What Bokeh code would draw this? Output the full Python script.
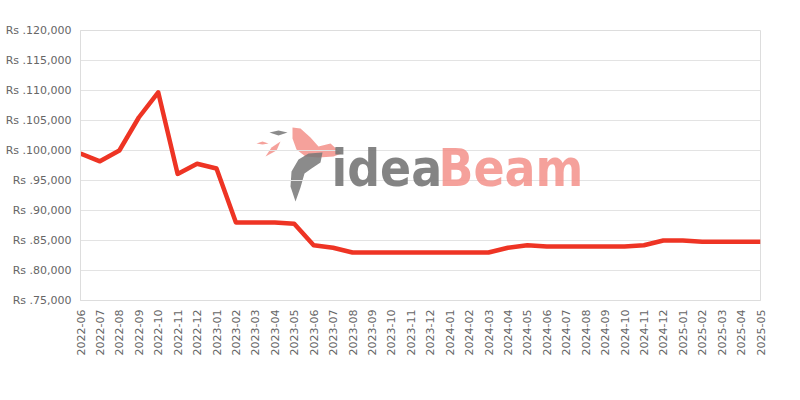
import math
from bokeh.plotting import figure
from bokeh.models import Range1d, FixedTicker, Label
from bokeh.embed import file_html
from bokeh.resources import INLINE

months = ["2022-06", "2022-07", "2022-08", "2022-09", "2022-10", "2022-11", "2022-12",
          "2023-01", "2023-02", "2023-03", "2023-04", "2023-05", "2023-06", "2023-07",
          "2023-08", "2023-09", "2023-10", "2023-11", "2023-12",
          "2024-01", "2024-02", "2024-03", "2024-04", "2024-05", "2024-06", "2024-07",
          "2024-08", "2024-09", "2024-10", "2024-11", "2024-12",
          "2025-01", "2025-02", "2025-03", "2025-04", "2025-05"]
prices = [99500, 98200, 100000, 105500, 109700, 96100, 97800,
          97000, 88000, 88000, 88000, 87800, 84200, 83800,
          83000, 83000, 83000, 83000, 83000,
          83000, 83000, 83000, 83800, 84200, 84000, 84000,
          84000, 84000, 84000, 84200, 85000,
          85000, 84800, 84800, 84800, 84800]
y_ticks = [75000, 80000, 85000, 90000, 95000, 100000, 105000, 110000, 115000, 120000]
y_min, y_max = 75000, 120000

FONT = "DejaVu Sans"
LABEL_COLOR = "#666666"

p = figure(width=784, height=384, output_backend="svg", toolbar_location=None,
           x_range=Range1d(0, len(months) - 1), y_range=Range1d(y_min, y_max),
           min_border_left=80, min_border_right=24, min_border_top=30, min_border_bottom=84)
p.background_fill_color = "white"
p.border_fill_color = "white"
p.outline_line_color = "#dddddd"

# watermark (page pixel -> data coords)
FL, FR, FT, FB = 80, 760, 30, 300
def px(x):
    return (x - FL) / (FR - FL) * (len(months) - 1)
def py(y):
    return y_max - (y - FT) / (FB - FT) * (y_max - y_min)

salmon = "#f39189"
grey = "#777777"
shapes = [
    ([(292,127),(300,128),(310,137),(318,146),(330,143),(341,153),(333,156),(318,157),(305,156),(296,149),(292,138)], salmon),
    ([(295,201),(290,186),(291,171),(298,159),(308,153),(322,152),(320,162),(311,168),(304,173),(300,187)], grey),
    ([(269,132),(278,130),(287,132),(278,135)], grey),
    ([(256,143),(262,141),(268,143),(262,144)], salmon),
    ([(265,156),(271,147),(280,141),(276,150)], salmon),
]
p.patches(xs=[[px(a) for a, b in s] for s, c in shapes],
          ys=[[py(b) for a, b in s] for s, c in shapes],
          fill_color=[c for s, c in shapes], line_color=None, fill_alpha=0.85, level="underlay")
WM_FONT = "DejaVu Sans Condensed"
p.add_layout(Label(x=px(331), y=py(168), text="idea", text_font=WM_FONT, text_font_size="51px",
                   text_font_style="bold", text_color=grey, text_alpha=0.9,
                   text_baseline="alphabetic", level="underlay"))
p.add_layout(Label(x=px(438), y=py(168), text="Beam", text_font=WM_FONT, text_font_size="51px",
                   text_font_style="bold", text_color=salmon, text_alpha=0.85,
                   text_baseline="alphabetic", level="underlay"))

xs = list(range(len(months)))
p.line(xs, prices, line_color="#ee3424", line_width=4.5, line_join="round")

# axes
p.xaxis.ticker = FixedTicker(ticks=xs)
p.xaxis.major_label_overrides = {i: m for i, m in enumerate(months)}
p.xaxis.major_label_orientation = math.pi / 2
p.yaxis.ticker = FixedTicker(ticks=y_ticks)
p.yaxis.major_label_overrides = {v: "Rs ." + f"{v:,}" for v in y_ticks}
for ax in (p.xaxis, p.yaxis):
    ax.major_label_text_font = FONT
    ax.major_label_text_font_size = "11px"
    ax.major_label_text_color = LABEL_COLOR
    ax.major_tick_line_color = None
    ax.minor_tick_line_color = None
    ax.major_tick_out = 0
    ax.major_tick_in = 0
    ax.axis_line_color = "#dddddd"
p.yaxis.major_label_standoff = 9
p.xaxis.major_label_standoff = 9

p.xgrid.grid_line_color = None
p.ygrid.grid_line_color = "#e3e3e3"
p.ygrid.grid_line_width = 1

open("out.html", "w").write(file_html(p, INLINE))
